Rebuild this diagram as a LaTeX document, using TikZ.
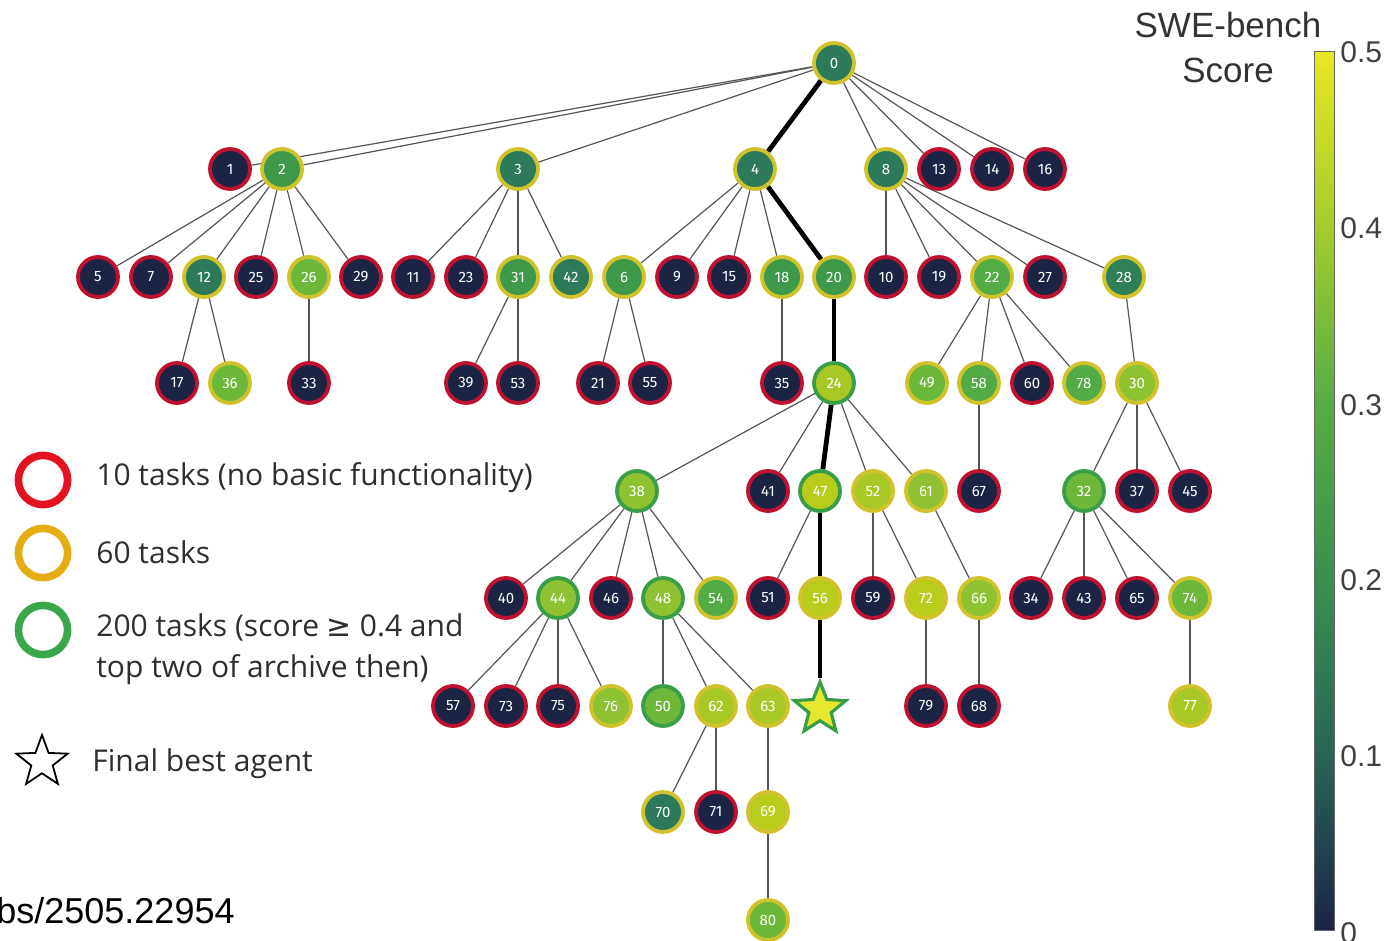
\documentclass[tikz,border=0pt]{standalone}
\usepackage{fontspec}
\usetikzlibrary{shapes.geometric,backgrounds}
\newfontfamily\legfont{Open Sans}
\newfontfamily\arialf{Liberation Sans}
\newfontfamily\numfont{Fira Sans}
\newfontfamily\symfont{DejaVu Sans}
\definecolor{navy}{HTML}{1C2444}
\definecolor{teal}{HTML}{2C7A5A}
\definecolor{gA}{HTML}{3E9A4A}
\definecolor{gB}{HTML}{52AB45}
\definecolor{gC}{HTML}{6CB83A}
\definecolor{gD}{HTML}{8EC232}
\definecolor{gE}{HTML}{A8C826}
\definecolor{gF}{HTML}{B8CC1C}
\definecolor{starfill}{HTML}{E6E830}
\definecolor{ringred}{HTML}{C01030}
\definecolor{ringgold}{HTML}{CFC22A}
\definecolor{ringgreen}{HTML}{3A9E48}
\definecolor{legred}{HTML}{E3121E}
\definecolor{leggold}{HTML}{E4AE12}
\definecolor{leggreen}{HTML}{3AA84A}
\definecolor{edgegray}{HTML}{555555}
\definecolor{txt}{HTML}{2E2E2E}
\definecolor{cb5}{HTML}{E8E820}
\definecolor{cb4}{HTML}{A4CC2C}
\definecolor{cb3}{HTML}{58AC44}
\definecolor{cb2}{HTML}{389050}
\definecolor{cb1}{HTML}{2A6456}
\definecolor{cb0}{HTML}{1C2446}
\tikzset{
  nd/.style={circle, minimum size=20pt, inner sep=0pt, line width=1.9pt,
    font=\numfont\fontsize{7.5}{8}\selectfont, text=white},
  rd/.style={nd, fill=navy, draw=ringred},
  yl/.style={nd, draw=ringgold},
  gr/.style={nd, draw=ringgreen},
  edge/.style={draw=edgegray, line width=0.6pt},
  best/.style={draw=black, line width=2.4pt},
  legtext/.style={anchor=west, font=\legfont\fontsize{15}{17}\selectfont, text=txt, inner sep=0pt},
  legring/.style={line width=3.8pt},
  cbtext/.style={anchor=west, font=\arialf\fontsize{15}{17}\selectfont, text=black!75, inner sep=0pt},
  cbtitle/.style={anchor=base, font=\arialf\fontsize{17.5}{20}\selectfont, text=black!80, inner sep=0pt},
}
\begin{document}
\begin{tikzpicture}[x=0.5pt,y=-0.5pt]
\useasboundingbox (0,0) rectangle (1391,941);
% row 0
\node[yl, fill=teal] (n0) at (834,63) {0};
% row 1
\node[rd] (n1) at (230,169) {1};
\node[yl, fill=gA] (n2) at (282,169) {2};
\node[yl, fill=teal] (n3) at (518,169) {3};
\node[yl, fill=teal] (n4) at (755,169) {4};
\node[yl, fill=teal] (n8) at (886,169) {8};
\node[rd] (n13) at (939,169) {13};
\node[rd] (n14) at (992,169) {14};
\node[rd] (n16) at (1045,169) {16};
% row 2
\node[rd] (n5) at (98,277) {5};
\node[rd] (n7) at (151,277) {7};
\node[yl, fill=teal] (n12) at (204,277) {12};
\node[rd] (n25) at (256,277) {25};
\node[yl, fill=gC] (n26) at (309,277) {26};
\node[rd] (n29) at (361,277) {29};
\node[rd] (n11) at (413,277) {11};
\node[rd] (n23) at (466,277) {23};
\node[yl, fill=gA] (n31) at (518,277) {31};
\node[yl, fill=teal] (n42) at (571,277) {42};
\node[yl, fill=gA] (n6) at (624,277) {6};
\node[rd] (n9) at (677,277) {9};
\node[rd] (n15) at (729,277) {15};
\node[yl, fill=gA] (n18) at (782,277) {18};
\node[yl, fill=gA] (n20) at (834,277) {20};
\node[rd] (n10) at (886,277) {10};
\node[rd] (n19) at (939,277) {19};
\node[yl, fill=gB] (n22) at (992,277) {22};
\node[rd] (n27) at (1045,277) {27};
\node[yl, fill=teal!85!gA] (n28) at (1124,277) {28};
% row 3
\node[rd] (n17) at (177,383) {17};
\node[yl, fill=gC] (n36) at (230,383) {36};
\node[rd] (n33) at (309,383) {33};
\node[rd] (n39) at (466,383) {39};
\node[rd] (n53) at (518,383) {53};
\node[rd] (n21) at (598,383) {21};
\node[rd] (n55) at (650,383) {55};
\node[rd] (n35) at (782,383) {35};
\node[gr, fill=gE] (n24) at (834,383) {24};
\node[yl, fill=gC] (n49) at (927,383) {49};
\node[yl, fill=gB] (n58) at (979,383) {58};
\node[rd] (n60) at (1032,383) {60};
\node[yl, fill=gB] (n78) at (1084,383) {78};
\node[yl, fill=gD] (n30) at (1137,383) {30};
% row 4
\node[gr, fill=gD] (n38) at (637,491) {38};
\node[rd] (n41) at (768,491) {41};
\node[gr, fill=gF] (n47) at (820,491) {47};
\node[yl, fill=gE] (n52) at (873,491) {52};
\node[yl, fill=gD] (n61) at (926,491) {61};
\node[rd] (n67) at (979,491) {67};
\node[gr, fill=gC] (n32) at (1084,491) {32};
\node[rd] (n37) at (1137,491) {37};
\node[rd] (n45) at (1190,491) {45};
% row 5
\node[rd] (n40) at (506,598) {40};
\node[gr, fill=gD] (n44) at (558,598) {44};
\node[rd] (n46) at (611,598) {46};
\node[gr, fill=gD] (n48) at (663,598) {48};
\node[yl, fill=gB] (n54) at (716,598) {54};
\node[rd] (n51) at (768,598) {51};
\node[yl, fill=gF] (n56) at (820,598) {56};
\node[rd] (n59) at (873,598) {59};
\node[yl, fill=gF] (n72) at (926,598) {72};
\node[yl, fill=gD] (n66) at (979,598) {66};
\node[rd] (n34) at (1031,598) {34};
\node[rd] (n43) at (1084,598) {43};
\node[rd] (n65) at (1137,598) {65};
\node[yl, fill=gC] (n74) at (1190,598) {74};
% row 6
\node[rd] (n57) at (453,706) {57};
\node[rd] (n73) at (506,706) {73};
\node[rd] (n75) at (558,706) {75};
\node[yl, fill=gD] (n76) at (611,706) {76};
\node[gr, fill=gC] (n50) at (663,706) {50};
\node[yl, fill=gE] (n62) at (716,706) {62};
\node[yl, fill=gE] (n63) at (768,706) {63};
\node[star, star points=5, star point ratio=2.3, minimum size=27pt, inner sep=0pt,
      fill=starfill, draw=ringgreen, line width=1.6pt] (nstar) at (820,709) {};
\node[rd] (n79) at (926,706) {79};
\node[rd] (n68) at (979,706) {68};
\node[yl, fill=gE] (n77) at (1190,706) {77};
% row 7, 8
\node[yl, fill=teal] (n70) at (663,812) {70};
\node[rd] (n71) at (716,812) {71};
\node[yl, fill=gF] (n69) at (768,812) {69};
\node[yl, fill=gC] (n80) at (768,920) {80};

\begin{pgfonlayer}{background}
\foreach \a/\b in {0/1,0/2,0/3,0/8,0/13,0/14,0/16,
  2/5,2/7,2/12,2/25,2/26,2/29,3/11,3/23,3/31,3/42,
  4/6,4/9,4/15,4/18,8/10,8/19,8/22,8/27,8/28,
  12/17,12/36,26/33,31/39,31/53,6/21,6/55,18/35,
  22/49,22/58,22/60,22/78,28/30,
  24/38,24/41,24/52,24/61,58/67,30/32,30/37,30/45,
  38/40,38/44,38/46,38/48,38/54,47/51,52/59,52/72,61/66,
  32/34,32/43,32/65,32/74,
  44/57,44/73,44/75,44/76,48/50,48/62,48/63,72/79,66/68,74/77,
  62/70,62/71,63/69,69/80}
  \draw[edge] (n\a) -- (n\b);
\foreach \a/\b in {0/4,4/20,20/24,24/47,47/56,56/star}
  \draw[best] (n\a) -- (n\b);
\end{pgfonlayer}

% legend
\draw[legring, legred] (43,480) circle (12.3pt);
\draw[legring, leggold] (43,553) circle (12.3pt);
\draw[legring, leggreen] (43,630) circle (12.3pt);
\node[legtext] (l1) at (96,478) {10 tasks (no basic functionality)};
\node[legtext] (l2) at (96,552) {60 tasks};
\node[legtext] (l3) at (96,627) {200 tasks (score {\symfont ≥} 0.4 and};
\node[legtext] (l4) at (96,670) {top two of archive then)};
\node[star, star points=5, star point ratio=2.4, minimum size=27pt, inner sep=0pt,
      draw=black, line width=0.9pt] (lstar) at (42,762) {};
\node[legtext] (l5) at (92,764) {Final best agent};

% colorbar
\node[cbtitle] (cbt1) at (1228,38) {SWE-bench};
\node[cbtitle] (cbt2) at (1228,83) {Score};
\shade[top color=cb5, bottom color=cb4] (1314,52) rectangle (1334,227.6);
\shade[top color=cb4, bottom color=cb3] (1314,227.6) rectangle (1334,403.2);
\shade[top color=cb3, bottom color=cb2] (1314,403.2) rectangle (1334,578.8);
\shade[top color=cb2, bottom color=cb1] (1314,578.8) rectangle (1334,754.4);
\shade[top color=cb1, bottom color=cb0] (1314,754.4) rectangle (1334,930);
\draw[black!60, line width=0.5pt] (1314,52) rectangle (1334,930);
\node[cbtext] (t5) at (1340,52) {0.5};
\node[cbtext] (t4) at (1340,228) {0.4};
\node[cbtext] (t3) at (1340,405) {0.3};
\node[cbtext] (t2) at (1340,580) {0.2};
\node[cbtext] (t1) at (1340,756) {0.1};
\node[cbtext] (t0) at (1340,933) {0};

% cut-off reference
\node[anchor=base east, font=\arialf\fontsize{18}{20}\selectfont, text=black, inner sep=0pt] (ref) at (235,923) {abs/2505.22954};
\end{tikzpicture}
\end{document}
